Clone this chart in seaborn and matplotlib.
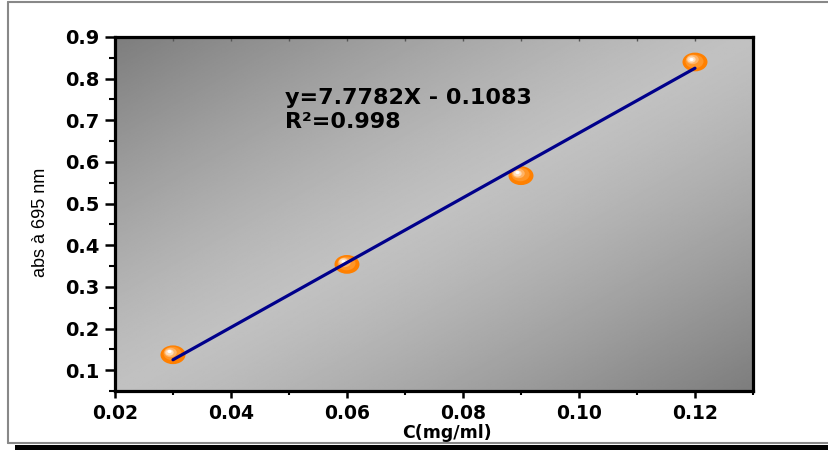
import numpy as np
import pandas as pd
import matplotlib
matplotlib.use("Agg")
import matplotlib.pyplot as plt
import seaborn as sns
from matplotlib.path import Path
from matplotlib.markers import MarkerStyle
from matplotlib.transforms import Affine2D, ScaledTranslation
from matplotlib.patches import Rectangle
from matplotlib.lines import Line2D
from matplotlib.ticker import MultipleLocator

# ---- data ----
conc = [0.03, 0.06, 0.09, 0.12]
absorb = [0.137, 0.354, 0.567, 0.840]
slope = 7.7782
intercept = -0.1083
r2 = 0.998
x_ticks = [0.02, 0.04, 0.06, 0.08, 0.10, 0.12]
x_tick_labels = ["0.02", "0.04", "0.06", "0.08", "0.10", "0.12"]
y_ticks = [0.1, 0.2, 0.3, 0.4, 0.5, 0.6, 0.7, 0.8, 0.9]
y_tick_labels = ["0.1", "0.2", "0.3", "0.4", "0.5", "0.6", "0.7", "0.8", "0.9"]
x_label = "C(mg/ml)"
y_label = "abs à 695 nm"

df = pd.DataFrame({"conc": conc, "abs": absorb})
fit_x = np.array([min(conc), max(conc)])
fit_df = pd.DataFrame({"x": fit_x, "y": slope * fit_x + intercept})

sns.set_theme(style="white")
plt.rcParams["font.family"] = ["DejaVu Sans"]
plt.rcParams.update({"text.color": "black", "axes.labelcolor": "black",
                     "xtick.color": "black", "ytick.color": "black",
                     "xtick.labelcolor": "black", "ytick.labelcolor": "black"})

fig = plt.figure(figsize=(8.29, 4.5), dpi=100)
ax = fig.add_axes([0.1387, 0.1311, 0.7696, 0.7867])

# gradient background
n = 300
U, W = np.meshgrid(np.linspace(0, 1, n), np.linspace(0, 1, n))
g = (193 - 68 * np.abs(U + W - 1) ** 1.25) / 255.0
ax.imshow(g, cmap="gray", vmin=0, vmax=1, extent=(0, 1, 0, 1),
          transform=ax.transAxes, origin="upper", aspect="auto",
          zorder=0, interpolation="bilinear")

# elliptical sphere markers
ell = MarkerStyle(Path.unit_circle().transformed(Affine2D().scale(1.0, 0.75)))
sns.scatterplot(data=df, x="conc", y="abs", marker=ell, s=18 ** 2,
                color="#ff8000", edgecolor="none", linewidth=0, zorder=3, ax=ax)
layers = [(13, "#ff9628", -1.0, 1.0), (9, "#ffb468", -2.0, 1.8),
          (6, "#ffdcb8", -2.6, 2.2), (3, "#ffffff", -2.9, 2.4)]
for sz, col, dx, dy in layers:
    ax.plot(conc, absorb, linestyle="none", marker=ell, markersize=sz,
            color=col, markeredgewidth=0, zorder=3.5,
            transform=ax.transData + ScaledTranslation(dx / 72, dy / 72, fig.dpi_scale_trans))

# fit line
sns.lineplot(data=fit_df, x="x", y="y", color="#00008b", linewidth=2.3, zorder=4, ax=ax)

ax.set_xlim(0.02, 0.13)
ax.set_ylim(0.05, 0.9)
ax.set_xticks(x_ticks)
ax.set_xticklabels(x_tick_labels, fontweight="bold", fontsize=13.5)
ax.set_yticks(y_ticks)
ax.set_yticklabels(y_tick_labels, fontweight="bold", fontsize=14)
ax.xaxis.set_minor_locator(MultipleLocator(0.01))
ax.yaxis.set_minor_locator(MultipleLocator(0.05))
ax.tick_params(axis="x", which="major", direction="out", length=5, width=1.8,
               color="black", pad=4, bottom=True, top=False)
ax.tick_params(axis="x", which="minor", direction="out", length=3, width=1.5,
               color="black", bottom=True, top=False)
ax.tick_params(axis="y", which="major", direction="out", length=7, width=1.8,
               color="black", pad=4, left=True, right=False)
ax.tick_params(axis="y", which="minor", direction="out", length=4.5, width=1.5,
               color="black", left=True, right=False)

# faint inner ticks on top
sec = ax.secondary_xaxis("top")
sec.set_xticks(np.arange(0.03, 0.125, 0.01))
sec.tick_params(direction="in", length=3, width=1, color="#555555", labeltop=False)
sec.spines["top"].set_visible(False)

for sp in ax.spines.values():
    sp.set_visible(True)
    sp.set_color("black")
    sp.set_linewidth(2.3)
    sp.set_zorder(5)

ax.set_xlabel(x_label, fontweight="bold", fontsize=12.5, color="black")
ax.xaxis.set_label_coords(0.52, -0.093)
ax.set_ylabel(y_label, family=["Liberation Sans", "DejaVu Sans"], fontsize=13, color="black")
ax.yaxis.set_label_coords(-0.104, 0.477)

ax.text(0.266, 0.856, f"y={slope}X - {abs(intercept)}", transform=ax.transAxes,
        fontsize=16, fontweight="bold", color="black", va="top", ha="left", zorder=6)
ax.text(0.266, 0.788, f"R²={r2}", transform=ax.transAxes,
        fontsize=16, fontweight="bold", color="black", va="top", ha="left", zorder=6)

# outer frame decoration
fig.add_artist(Line2D([0.00965, 0.00965], [0.0156, 0.9956], transform=fig.transFigure,
                      color="#888888", lw=1.5))
fig.add_artist(Line2D([0.00965, 1.0], [0.9956, 0.9956], transform=fig.transFigure,
                      color="#888888", lw=1.5))
fig.add_artist(Line2D([0.00965, 1.0], [0.0156, 0.0156], transform=fig.transFigure,
                      color="#888888", lw=1.5))
fig.add_artist(Rectangle((0.018, 0.0), 0.982, 0.011, transform=fig.transFigure,
                         facecolor="black", edgecolor="none"))

fig.savefig("out.png", dpi=100)
